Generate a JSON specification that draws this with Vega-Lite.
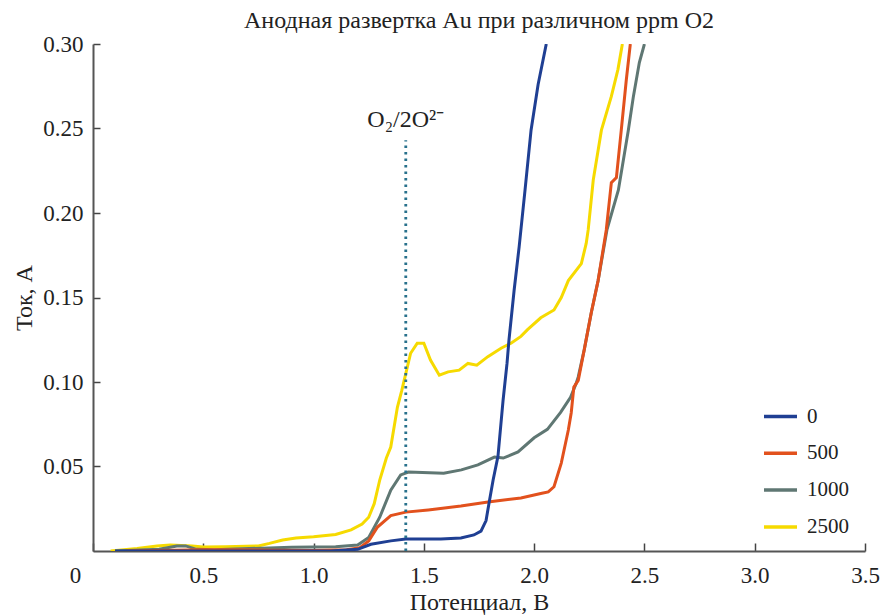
{
  "$schema": "https://vega.github.io/schema/vega-lite/v6.json",
  "width": 772,
  "height": 507,
  "autosize": "none",
  "padding": {"left": 93, "top": 44, "right": 16, "bottom": 64},
  "title": {"text": "Анодная развертка Au при различном ppm O2", "font": "Liberation Serif", "fontSize": 24, "fontWeight": "normal", "color": "#222", "anchor": "middle", "offset": 0},
  "config": {"view": {"stroke": null}, "font": "Liberation Serif"},
  "datasets": {
    "curves": [
      {"ppm": "2500", "potential": 0.08, "current": 0},
      {"ppm": "2500", "potential": 0.2, "current": 0.0015},
      {"ppm": "2500", "potential": 0.29, "current": 0.003},
      {"ppm": "2500", "potential": 0.35, "current": 0.0035},
      {"ppm": "2500", "potential": 0.45, "current": 0.003},
      {"ppm": "2500", "potential": 0.5, "current": 0.0024},
      {"ppm": "2500", "potential": 0.6, "current": 0.0025},
      {"ppm": "2500", "potential": 0.75, "current": 0.003},
      {"ppm": "2500", "potential": 0.8, "current": 0.0045},
      {"ppm": "2500", "potential": 0.86, "current": 0.0065},
      {"ppm": "2500", "potential": 0.92, "current": 0.0077},
      {"ppm": "2500", "potential": 1.0, "current": 0.0085},
      {"ppm": "2500", "potential": 1.1, "current": 0.0098},
      {"ppm": "2500", "potential": 1.17, "current": 0.0125},
      {"ppm": "2500", "potential": 1.22, "current": 0.016},
      {"ppm": "2500", "potential": 1.25, "current": 0.02},
      {"ppm": "2500", "potential": 1.275, "current": 0.028},
      {"ppm": "2500", "potential": 1.3, "current": 0.042},
      {"ppm": "2500", "potential": 1.33, "current": 0.055},
      {"ppm": "2500", "potential": 1.35, "current": 0.0615},
      {"ppm": "2500", "potential": 1.38, "current": 0.085},
      {"ppm": "2500", "potential": 1.4, "current": 0.095},
      {"ppm": "2500", "potential": 1.418, "current": 0.105},
      {"ppm": "2500", "potential": 1.44, "current": 0.117},
      {"ppm": "2500", "potential": 1.47, "current": 0.123},
      {"ppm": "2500", "potential": 1.5, "current": 0.123},
      {"ppm": "2500", "potential": 1.53, "current": 0.113},
      {"ppm": "2500", "potential": 1.57, "current": 0.104},
      {"ppm": "2500", "potential": 1.61, "current": 0.106},
      {"ppm": "2500", "potential": 1.66, "current": 0.107},
      {"ppm": "2500", "potential": 1.7, "current": 0.111},
      {"ppm": "2500", "potential": 1.74, "current": 0.11},
      {"ppm": "2500", "potential": 1.79, "current": 0.115},
      {"ppm": "2500", "potential": 1.85, "current": 0.12},
      {"ppm": "2500", "potential": 1.895, "current": 0.123},
      {"ppm": "2500", "potential": 1.94, "current": 0.127},
      {"ppm": "2500", "potential": 1.97, "current": 0.131},
      {"ppm": "2500", "potential": 2.03, "current": 0.138},
      {"ppm": "2500", "potential": 2.09, "current": 0.1426},
      {"ppm": "2500", "potential": 2.123, "current": 0.15},
      {"ppm": "2500", "potential": 2.155, "current": 0.16},
      {"ppm": "2500", "potential": 2.214, "current": 0.17},
      {"ppm": "2500", "potential": 2.236, "current": 0.182},
      {"ppm": "2500", "potential": 2.245, "current": 0.19},
      {"ppm": "2500", "potential": 2.268, "current": 0.2195},
      {"ppm": "2500", "potential": 2.305, "current": 0.249},
      {"ppm": "2500", "potential": 2.35, "current": 0.269},
      {"ppm": "2500", "potential": 2.38, "current": 0.285},
      {"ppm": "2500", "potential": 2.4, "current": 0.3},

      {"ppm": "1000", "potential": 0.1, "current": 0},
      {"ppm": "1000", "potential": 0.3, "current": 0.001},
      {"ppm": "1000", "potential": 0.38, "current": 0.003},
      {"ppm": "1000", "potential": 0.42, "current": 0.003},
      {"ppm": "1000", "potential": 0.47, "current": 0.001},
      {"ppm": "1000", "potential": 0.55, "current": 0.0008},
      {"ppm": "1000", "potential": 0.9, "current": 0.0022},
      {"ppm": "1000", "potential": 1.1, "current": 0.0025},
      {"ppm": "1000", "potential": 1.2, "current": 0.0035},
      {"ppm": "1000", "potential": 1.25, "current": 0.008},
      {"ppm": "1000", "potential": 1.3, "current": 0.02},
      {"ppm": "1000", "potential": 1.35, "current": 0.036},
      {"ppm": "1000", "potential": 1.395, "current": 0.045},
      {"ppm": "1000", "potential": 1.43, "current": 0.0467},
      {"ppm": "1000", "potential": 1.59, "current": 0.046},
      {"ppm": "1000", "potential": 1.67, "current": 0.048},
      {"ppm": "1000", "potential": 1.745, "current": 0.051},
      {"ppm": "1000", "potential": 1.82, "current": 0.0556},
      {"ppm": "1000", "potential": 1.86, "current": 0.055},
      {"ppm": "1000", "potential": 1.927, "current": 0.0586},
      {"ppm": "1000", "potential": 2.0, "current": 0.067},
      {"ppm": "1000", "potential": 2.06, "current": 0.072},
      {"ppm": "1000", "potential": 2.12, "current": 0.082},
      {"ppm": "1000", "potential": 2.165, "current": 0.091},
      {"ppm": "1000", "potential": 2.19, "current": 0.099},
      {"ppm": "1000", "potential": 2.2, "current": 0.103},
      {"ppm": "1000", "potential": 2.227, "current": 0.119},
      {"ppm": "1000", "potential": 2.259, "current": 0.141},
      {"ppm": "1000", "potential": 2.29, "current": 0.16},
      {"ppm": "1000", "potential": 2.33, "current": 0.19},
      {"ppm": "1000", "potential": 2.382, "current": 0.2136},
      {"ppm": "1000", "potential": 2.427, "current": 0.249},
      {"ppm": "1000", "potential": 2.45, "current": 0.269},
      {"ppm": "1000", "potential": 2.477, "current": 0.289},
      {"ppm": "1000", "potential": 2.5, "current": 0.3},

      {"ppm": "500", "potential": 0.15, "current": 0},
      {"ppm": "500", "potential": 0.5, "current": 0.0008},
      {"ppm": "500", "potential": 0.8, "current": 0.0005},
      {"ppm": "500", "potential": 1.0, "current": 0.0003},
      {"ppm": "500", "potential": 1.15, "current": 0.0008},
      {"ppm": "500", "potential": 1.21, "current": 0.002},
      {"ppm": "500", "potential": 1.25, "current": 0.006},
      {"ppm": "500", "potential": 1.29, "current": 0.0142},
      {"ppm": "500", "potential": 1.35, "current": 0.021},
      {"ppm": "500", "potential": 1.418, "current": 0.023},
      {"ppm": "500", "potential": 1.52, "current": 0.0243},
      {"ppm": "500", "potential": 1.668, "current": 0.0266},
      {"ppm": "500", "potential": 1.791, "current": 0.029},
      {"ppm": "500", "potential": 1.94, "current": 0.0314},
      {"ppm": "500", "potential": 2.03, "current": 0.034},
      {"ppm": "500", "potential": 2.064, "current": 0.035},
      {"ppm": "500", "potential": 2.09, "current": 0.038},
      {"ppm": "500", "potential": 2.123, "current": 0.052},
      {"ppm": "500", "potential": 2.155, "current": 0.0716},
      {"ppm": "500", "potential": 2.168, "current": 0.0817},
      {"ppm": "500", "potential": 2.18, "current": 0.097},
      {"ppm": "500", "potential": 2.2, "current": 0.101},
      {"ppm": "500", "potential": 2.227, "current": 0.119},
      {"ppm": "500", "potential": 2.259, "current": 0.141},
      {"ppm": "500", "potential": 2.29, "current": 0.16},
      {"ppm": "500", "potential": 2.327, "current": 0.19},
      {"ppm": "500", "potential": 2.35, "current": 0.218},
      {"ppm": "500", "potential": 2.373, "current": 0.221},
      {"ppm": "500", "potential": 2.395, "current": 0.249},
      {"ppm": "500", "potential": 2.418, "current": 0.279},
      {"ppm": "500", "potential": 2.436, "current": 0.3},

      {"ppm": "0", "potential": 0.1, "current": 0},
      {"ppm": "0", "potential": 1.077, "current": 0},
      {"ppm": "0", "potential": 1.2, "current": 0.001},
      {"ppm": "0", "potential": 1.26, "current": 0.004},
      {"ppm": "0", "potential": 1.35, "current": 0.006},
      {"ppm": "0", "potential": 1.418, "current": 0.0071},
      {"ppm": "0", "potential": 1.577, "current": 0.0071},
      {"ppm": "0", "potential": 1.668, "current": 0.0077},
      {"ppm": "0", "potential": 1.727, "current": 0.0095},
      {"ppm": "0", "potential": 1.759, "current": 0.0118},
      {"ppm": "0", "potential": 1.782, "current": 0.018},
      {"ppm": "0", "potential": 1.795, "current": 0.028},
      {"ppm": "0", "potential": 1.814, "current": 0.042},
      {"ppm": "0", "potential": 1.836, "current": 0.056},
      {"ppm": "0", "potential": 1.859, "current": 0.089},
      {"ppm": "0", "potential": 1.877, "current": 0.111},
      {"ppm": "0", "potential": 1.886, "current": 0.125},
      {"ppm": "0", "potential": 1.909, "current": 0.154},
      {"ppm": "0", "potential": 1.932, "current": 0.18},
      {"ppm": "0", "potential": 1.959, "current": 0.214},
      {"ppm": "0", "potential": 1.986, "current": 0.249},
      {"ppm": "0", "potential": 2.018, "current": 0.276},
      {"ppm": "0", "potential": 2.055, "current": 0.3}
    ],
    "marker": [{"potential": 1.418, "current": 0, "top": 0.243, "label": "O₂/2O²⁻", "labelY": 0.255}]
  },
  "layer": [
    {
      "data": {"name": "curves"},
      "mark": {"type": "line", "strokeWidth": 3, "clip": true},
      "encoding": {
        "x": {
          "field": "potential", "type": "quantitative",
          "scale": {"domain": [0, 3.5], "nice": false, "zero": false},
          "axis": {
            "title": "Потенциал, В", "titleFont": "Liberation Serif", "titleFontSize": 24, "titleFontWeight": "normal", "titleColor": "#222", "titlePadding": 3,
            "values": [0, 0.5, 1, 1.5, 2, 2.5, 3, 3.5],
            "labelExpr": "datum.value == 0 ? '0' : format(datum.value, '.1f')",
            "labelFont": "Liberation Serif", "labelFontSize": 23, "labelColor": "#222",
            "labelOffset": {"condition": {"test": "datum.value == 0", "value": -18}, "value": 0},
            "labelPadding": 21, "labelFlush": false,
            "domainColor": "#555", "domainWidth": 2,
            "tickColor": "#444", "tickWidth": 1.5, "tickSize": -8,
            "grid": false
          }
        },
        "y": {
          "field": "current", "type": "quantitative",
          "scale": {"domain": [0, 0.3], "nice": false},
          "axis": {
            "title": "Ток, А", "titleFont": "Liberation Serif", "titleFontSize": 24, "titleFontWeight": "normal", "titleColor": "#222", "titlePadding": 6,
            "values": [0.05, 0.1, 0.15, 0.2, 0.25, 0.3],
            "format": ".2f",
            "labelFont": "Liberation Serif", "labelFontSize": 23, "labelColor": "#222",
            "labelPadding": 17,
            "domainColor": "#555", "domainWidth": 2,
            "tickColor": "#444", "tickWidth": 1.5, "tickSize": -7,
            "grid": false
          }
        },
        "color": {
          "field": "ppm", "type": "nominal",
          "scale": {"domain": ["0", "500", "1000", "2500"], "range": ["#1f3f93", "#e2511d", "#5f7773", "#f6da00"]},
          "legend": {
            "title": null, "orient": "none", "legendX": 669, "legendY": 354, "padding": 0,
            "symbolType": "stroke", "symbolSize": 1089, "symbolStrokeWidth": 3.5,
            "labelFont": "Liberation Serif", "labelFontSize": 21, "labelColor": "#222", "labelOffset": 8,
            "rowPadding": 7.8
          }
        }
      }
    },
    {
      "data": {"name": "marker"},
      "mark": {"type": "rule", "color": "#28718c", "strokeWidth": 2.8, "strokeDash": [2.5, 4]},
      "encoding": {
        "x": {"field": "potential", "type": "quantitative"},
        "y": {"field": "current", "type": "quantitative"},
        "y2": {"field": "top"}
      }
    },
    {
      "data": {"name": "marker"},
      "mark": {"type": "text", "font": "Liberation Serif", "fontSize": 24, "color": "#222", "align": "center", "baseline": "middle"},
      "encoding": {
        "x": {"field": "potential", "type": "quantitative"},
        "y": {"field": "labelY", "type": "quantitative"},
        "text": {"field": "label"}
      }
    }
  ]
}
